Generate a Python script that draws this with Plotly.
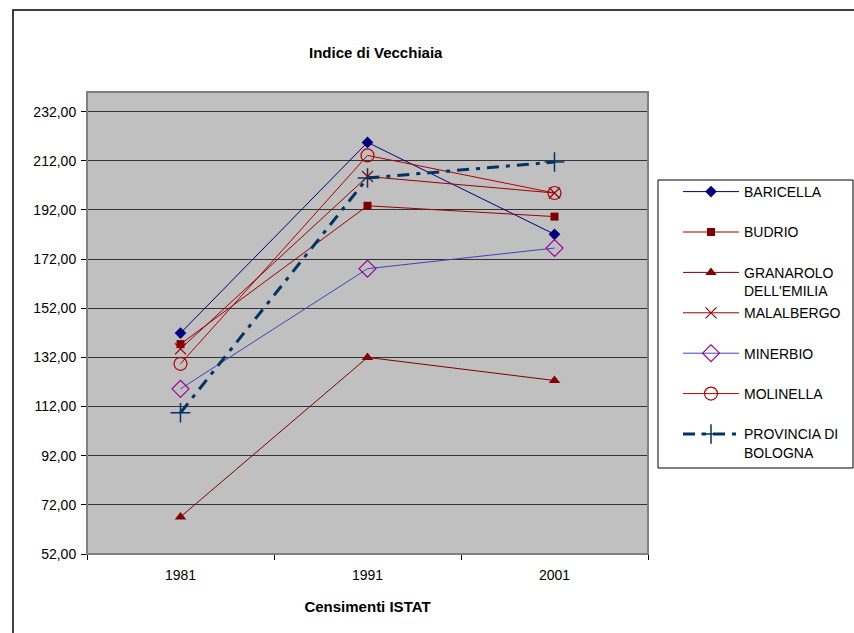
import plotly.graph_objects as go

years = ["1981", "1991", "2001"]
series_names = ["BARICELLA", "BUDRIO", "GRANAROLO<br>DELL'EMILIA", "MALALBERGO",
                "MINERBIO", "MOLINELLA", "PROVINCIA DI<br>BOLOGNA"]
baricella = [141.9, 219.5, 182.1]
budrio = [137.4, 193.7, 189.3]
granarolo = [67.1, 132.0, 122.6]
malalbergo = [135.5, 205.6, 198.9]
minerbio = [119.2, 168.1, 176.5]
molinella = [129.4, 214.2, 198.9]
provincia = [109.5, 205.0, 211.5]

y_tickvals = [52, 72, 92, 112, 132, 152, 172, 192, 212, 232]
y_ticktext = ["52,00", "72,00", "92,00", "112,00", "132,00", "152,00",
              "172,00", "192,00", "212,00", "232,00"]

title_text = "Indice di Vecchiaia"
xaxis_title = "Censimenti ISTAT"

values = [baricella, budrio, granarolo, malalbergo, minerbio, molinella, provincia]
styles = [
    dict(line=dict(color="#000080", width=1), marker=dict(symbol="diamond", size=9, color="#000080")),
    dict(line=dict(color="#990000", width=1), marker=dict(symbol="square", size=8, color="#800000")),
    dict(line=dict(color="#800000", width=1), marker=dict(symbol="triangle-up", size=10, color="#800000")),
    dict(line=dict(color="#990000", width=1), marker=dict(symbol="x-thin-open", size=11, color="#990000", line=dict(width=1.2, color="#990000"))),
    dict(line=dict(color="#4040C0", width=1), marker=dict(symbol="diamond-open", size=13, color="#990099", line=dict(width=1.2, color="#990099"))),
    dict(line=dict(color="#B00000", width=1), marker=dict(symbol="circle-open", size=13, color="#B00000", line=dict(width=1.2, color="#B00000"))),
    dict(line=dict(color="#003366", width=3, dash="12px,7px,4px,7px"), marker=dict(symbol="cross-thin-open", size=14, color="#003366", line=dict(width=1.5, color="#003366"))),
]

FONT = "Liberation Sans, Arial, sans-serif"

fig = go.Figure()
for i, (name, vals, st) in enumerate(zip(series_names, values, styles)):
    label = name if "<br>" in name else name + "<br> "
    fig.add_trace(go.Scatter(x=years, y=vals, name=label, mode="lines+markers",
                             legendgroup=str(i), **st))

W, H = 854, 633
ml, mr, mt, mb = 87, 206, 92, 79
pw = W - ml - mr
ph = H - mt - mb

def px2x(p):
    return (p - ml) / pw

def py2y(p):
    return (H - mb - p) / ph

fig.update_layout(
    width=W, height=H,
    margin=dict(l=ml, r=mr, t=mt, b=mb, autoexpand=False),
    paper_bgcolor="white",
    plot_bgcolor="#C0C0C0",
    font=dict(family=FONT, size=14, color="black"),
    showlegend=True,
    legend=dict(
        x=px2x(678), y=py2y(176), xanchor="left", yanchor="top",
        bgcolor="rgba(0,0,0,0)", borderwidth=0,
        font=dict(family=FONT, size=14, color="black"),
        valign="top", tracegroupgap=1, itemwidth=56,
    ),
    xaxis=dict(
        type="category", range=[-0.5, 2.5], tickson="boundaries", ticks="outside", ticklen=5,
        tickcolor="black", showgrid=False, showline=True, linecolor="black",
        linewidth=1, tickfont=dict(size=14), ticklabelstandoff=8,
        title=dict(text="<b>" + xaxis_title + "</b>", font=dict(size=15), standoff=19),
    ),
    yaxis=dict(
        range=[52, 240], tickvals=y_tickvals, ticktext=y_ticktext,
        ticks="outside", ticklen=5, tickcolor="black",
        showgrid=True, gridcolor="#333333", gridwidth=1,
        showline=True, linecolor="black", linewidth=1, zeroline=False,
        tickfont=dict(size=14), ticklabelstandoff=2,
    ),
    annotations=[dict(
        text="<b>" + title_text + "</b>", xref="paper", yref="paper",
        x=px2x(376), y=py2y(53), xanchor="center", yanchor="middle",
        showarrow=False, font=dict(size=15, family=FONT),
    )],
    shapes=[
        # outer chart frame
        dict(type="rect", xref="paper", yref="paper",
             x0=px2x(13), x1=px2x(870), y0=py2y(650), y1=py2y(10),
             line=dict(color="black", width=1.5), fillcolor="rgba(0,0,0,0)", layer="below"),
        # plot area border
        dict(type="rect", xref="paper", yref="paper", x0=0, x1=1, y0=0, y1=1,
             line=dict(color="#808080", width=2), fillcolor="rgba(0,0,0,0)", layer="above"),
        # legend box
        dict(type="rect", xref="paper", yref="paper",
             x0=px2x(658), x1=px2x(853), y0=py2y(468), y1=py2y(180),
             line=dict(color="black", width=1), fillcolor="white", layer="below"),
    ],
)

fig.write_html("out.html", config={"displayModeBar": False},
               post_script="document.body.style.margin='0';document.body.style.overflow='hidden';")
